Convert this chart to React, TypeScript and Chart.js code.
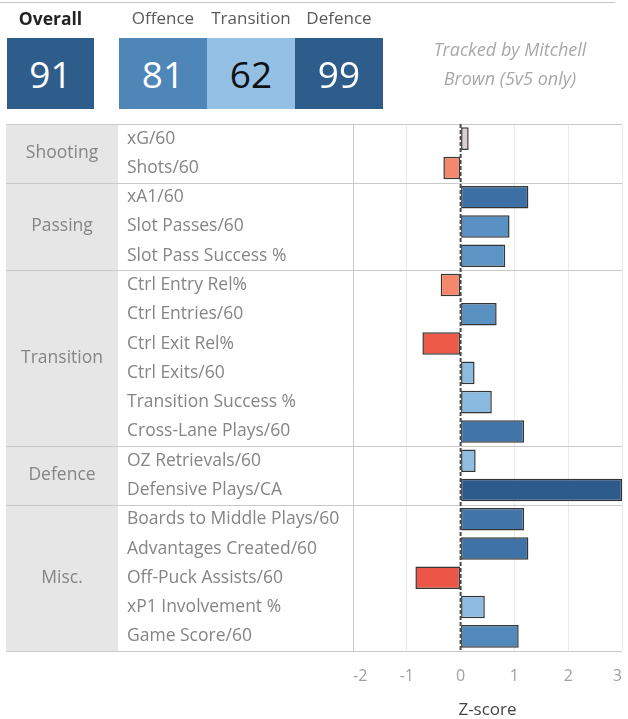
import React, { useEffect, useRef } from 'react';
import { Chart, registerables } from 'chart.js';

Chart.register(...registerables);

const FONT = '"Open Sans", "Noto Sans", sans-serif';

// ---- header scores ----
const scoreLabels = ['Overall', 'Offence', 'Transition', 'Defence'];
const scoreValues = [91, 81, 62, 99];
const scoreColors = ['#2e5d8c', '#4e86b8', '#93c0e4', '#2e5d8c'];
const scoreTextColors = ['#ffffff', '#ffffff', '#111111', '#ffffff'];
const noteLines = ['Tracked by Mitchell', 'Brown (5v5 only)'];

// ---- table groups ----
const groupNames = ['Shooting', 'Passing', 'Transition', 'Defence', 'Misc.'];
const groupSizes = [2, 3, 6, 2, 5];

// ---- metrics ----
const metrics = [
  'xG/60',
  'Shots/60',
  'xA1/60',
  'Slot Passes/60',
  'Slot Pass Success %',
  'Ctrl Entry Rel%',
  'Ctrl Entries/60',
  'Ctrl Exit Rel%',
  'Ctrl Exits/60',
  'Transition Success %',
  'Cross-Lane Plays/60',
  'OZ Retrievals/60',
  'Defensive Plays/CA',
  'Boards to Middle Plays/60',
  'Advantages Created/60',
  'Off-Puck Assists/60',
  'xP1 Involvement %',
  'Game Score/60',
];
const zScores = [
  0.15, -0.32, 1.26, 0.91, 0.83, -0.37, 0.67, -0.71, 0.26, 0.58, 1.18, 0.28, 3.0, 1.18, 1.26, -0.84, 0.45,
  1.08,
];
const barColors = [
  '#dccfcf',
  '#f4876e',
  '#3c70a4',
  '#5a91c4',
  '#5d94c6',
  '#f4876c',
  '#5a91c3',
  '#ee5a48',
  '#8cbbe1',
  '#8bbae0',
  '#4275a9',
  '#90bee2',
  '#2c5a8a',
  '#4275a9',
  '#3f73a7',
  '#eb5646',
  '#8dbbe1',
  '#5289bc',
];

const xMin = -2;
const xMax = 3;
const axisTitle = 'Z-score';

const LABEL_SIZE = 17.5;
const LABEL_COLOR = '#858585';

const tablePlugin = {
  id: 'tablePlugin',
  beforeDatasetsDraw(chart: any) {
    const { ctx, chartArea } = chart;
    const y = chart.scales.y;
    const tableLeft = 6;
    const groupRight = 118;
    const top = chartArea.top;
    const bottom = chartArea.bottom;
    ctx.save();
    ctx.fillStyle = '#e6e6e6';
    ctx.fillRect(tableLeft, top, groupRight - tableLeft, bottom - top);

    const bounds: number[] = [top];
    let idx = 0;
    groupSizes.forEach((n, gi) => {
      idx += n;
      if (gi < groupSizes.length - 1) {
        bounds.push((y.getPixelForValue(idx - 1) + y.getPixelForValue(idx)) / 2);
      }
    });
    bounds.push(bottom);

    ctx.strokeStyle = '#c9c9c9';
    ctx.lineWidth = 1;
    bounds.forEach((b) => {
      const yy = Math.round(b) + 0.5;
      ctx.beginPath();
      ctx.moveTo(tableLeft, yy);
      ctx.lineTo(chartArea.right, yy);
      ctx.stroke();
    });

    ctx.fillStyle = LABEL_COLOR;
    ctx.font = LABEL_SIZE + 'px ' + FONT;
    ctx.textAlign = 'center';
    ctx.textBaseline = 'middle';
    groupNames.forEach((g, gi) => {
      const c = (bounds[gi] + bounds[gi + 1]) / 2;
      ctx.fillText(g, (tableLeft + groupRight) / 2, c);
    });
    ctx.restore();
  },
  afterDatasetsDraw(chart: any) {
    const { ctx, chartArea } = chart;
    const x0 = chart.scales.x.getPixelForValue(0);
    ctx.save();
    ctx.strokeStyle = '#4a4a4a';
    ctx.lineWidth = 2;
    ctx.setLineDash([4, 2]);
    ctx.beginPath();
    ctx.moveTo(x0, chartArea.top);
    ctx.lineTo(x0, chartArea.bottom);
    ctx.stroke();
    ctx.restore();
  },
};

export default function App() {
  const canvasRef = useRef<HTMLCanvasElement | null>(null);

  useEffect(() => {
    const canvas = canvasRef.current;
    if (!canvas) return;
    const chart = new Chart(canvas, {
      type: 'bar',
      data: {
        labels: metrics,
        datasets: [
          {
            data: zScores,
            backgroundColor: barColors,
            borderColor: '#353535',
            borderWidth: 1.5,
            borderSkipped: false,
            barPercentage: 0.77,
            categoryPercentage: 1,
          },
        ],
      },
      options: {
        indexAxis: 'y',
        responsive: false,
        animation: false,
        devicePixelRatio: 1,
        layout: { padding: { left: 127, right: 6, top: 124, bottom: 0 } },
        plugins: {
          legend: { display: false },
          tooltip: { enabled: false },
        },
        scales: {
          x: {
            type: 'linear',
            min: xMin,
            max: xMax,
            grid: {
              drawTicks: false,
              lineWidth: 1,
              color: (ctx: any) => {
                const v = ctx.tick ? ctx.tick.value : null;
                if (v === xMin) return '#c9c9c9';
                if (v === 0) return 'rgba(0,0,0,0)';
                return '#ebebeb';
              },
            },
            border: { display: false },
            ticks: {
              stepSize: 1,
              align: 'inner',
              padding: 16,
              color: '#a0a0a0',
              font: { family: FONT, size: 16 },
            },
            title: {
              display: true,
              text: axisTitle,
              color: '#444444',
              font: { family: FONT, size: 17, lineHeight: 1 },
              padding: 0,
            },
            afterFit: (s: any) => {
              s.height = 68;
              s.paddingLeft = 0;
              s.paddingRight = 0;
            },
          },
          y: {
            grid: { display: false },
            border: { display: false },
            ticks: {
              crossAlign: 'far',
              padding: 0,
              autoSkip: false,
              color: LABEL_COLOR,
              font: { family: FONT, size: LABEL_SIZE },
            },
            afterFit: (s: any) => {
              s.width = 226;
              s.paddingTop = 0;
              s.paddingBottom = 0;
            },
          },
        },
      },
      plugins: [tablePlugin],
    } as any);
    return () => chart.destroy();
  }, []);

  const boxTop = 38;
  const boxH = 71;
  const boxes = scoreValues.map((v, i) => {
    const left = i === 0 ? 7 : 119 + (i - 1) * 88;
    const width = i === 0 ? 87 : 88;
    return { v, left, width, label: scoreLabels[i], color: scoreColors[i], text: scoreTextColors[i], bold: i === 0 };
  });

  return (
    <div
      style={{
        position: 'absolute',
        left: 0,
        top: 0,
        width: 628,
        height: 719,
        background: '#ffffff',
        fontFamily: FONT,
        overflow: 'hidden',
      }}
    >
      <canvas ref={canvasRef} width={628} height={719} style={{ position: 'absolute', left: 0, top: 0 }} />
      <div style={{ position: 'absolute', left: 0, top: 2, width: 615, height: 1, background: '#c4c4c4' }} />
      {boxes.map((b, i) => (
        <React.Fragment key={i}>
          <div
            style={{
              position: 'absolute',
              left: b.left - 20,
              width: b.width + 40,
              top: 6,
              height: 24,
              lineHeight: '24px',
              textAlign: 'center',
              fontSize: b.bold ? 17.5 : 17,
              fontWeight: b.bold ? 700 : 400,
              color: b.bold ? '#222222' : '#5a5a5a',
              whiteSpace: 'nowrap',
            }}
          >
            {b.label}
          </div>
          <div
            style={{
              position: 'absolute',
              left: b.left,
              width: b.width,
              top: boxTop,
              height: boxH,
              lineHeight: boxH + 'px',
              background: b.color,
              color: b.text,
              textAlign: 'center',
              fontSize: 37,
            }}
          >
            {b.v}
          </div>
        </React.Fragment>
      ))}
      <div
        style={{
          position: 'absolute',
          left: 400,
          width: 220,
          top: 35,
          lineHeight: '29px',
          fontSize: 18,
          fontStyle: 'italic',
          color: '#a8a8a8',
          textAlign: 'center',
          whiteSpace: 'nowrap',
        }}
      >
        {noteLines.map((l, i) => (
          <div key={i}>{l}</div>
        ))}
      </div>
    </div>
  );
}
